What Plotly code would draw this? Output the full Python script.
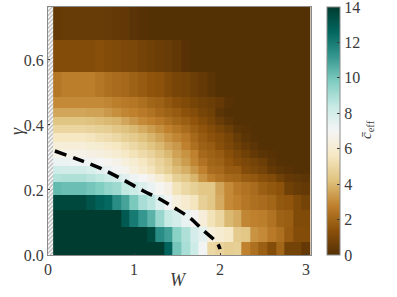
import plotly.graph_objects as go

W_edges = [0.05, 0.15, 0.25, 0.35, 0.45, 0.55, 0.65, 0.75, 0.85, 0.95, 1.05, 1.15, 1.25, 1.35, 1.45, 1.55,
           1.65, 1.75, 1.85, 1.95, 2.05, 2.15, 2.25, 2.35, 2.45, 2.55, 2.65, 2.75, 2.85, 2.95, 3.05]
gamma_edges = [0.0, 0.04, 0.086, 0.138, 0.185, 0.225, 0.249, 0.274, 0.298, 0.323, 0.348, 0.375, 0.4, 0.425,
               0.452, 0.486, 0.563, 0.662, 0.763]

# rows from bottom (gamma small) to top
c_eff = [
    [14,14,14,14,14,14,14,14,14,14,14,14,14,12.7,10.0,9.0,8.2,7.1,5.0,4.8,4.6,4.7,2.8,2.3,1.8,1.2,2.0,0.8,0.8,0.4],
    [14,14,14,14,14,14,14,14,14,14,14,13.5,11.5,11.0,9.6,8.9,8.0,7.5,6.3,6.0,5.7,4.5,4.4,3.2,3.0,2.6,2.3,1.7,1.2,1.2],
    [14,14,14,14,14,14,14,14,13.0,12.0,11.2,10.5,9.3,8.4,8.0,7.4,6.9,6.2,5.4,4.9,4.0,3.7,2.9,2.8,2.7,2.4,1.9,1.8,1.1,1.1],
    [13.6,13.6,13.6,13.6,13.2,12.8,12.5,11.5,10.9,9.9,9.0,8.6,7.8,7.1,6.3,5.9,5.5,4.7,4.4,3.7,3.0,2.8,2.5,2.3,2.2,2.0,1.6,1.5,1.1,0.8],
    [10.3,10.2,10.2,10.2,10.0,9.8,9.4,9.2,8.5,8.2,7.8,7.3,6.9,6.5,5.4,5.0,4.7,4.4,4.4,3.6,3.0,2.6,2.4,2.2,1.8,1.6,1.4,0.7,0.5,0.4],
    [8.8,8.9,8.9,8.9,8.7,8.5,8.2,8.0,7.6,7.2,7.0,6.6,6.0,5.4,4.7,4.4,3.9,3.2,2.7,2.4,2.1,2.0,1.7,1.6,1.3,1.1,0.7,0.4,0.3,0.2],
    [8.2,8.1,8.1,8.1,7.9,7.6,7.3,7.1,6.8,6.3,5.9,5.5,5.0,4.6,4.1,3.8,3.3,2.8,2.2,2.1,1.7,1.7,1.2,1.0,0.8,0.4,0.2,0.1,0,0],
    [7.3,7.3,7.2,7.2,7.1,7.0,6.9,6.7,6.3,6.0,5.6,5.2,4.8,4.4,3.8,3.4,2.9,2.4,2.0,1.9,1.5,1.2,1.0,0.8,0.6,0.2,0.05,0,0,0],
    [6.7,6.7,6.7,6.7,6.5,6.4,6.2,6.0,5.7,5.4,5.1,4.8,4.4,4.0,3.5,3.2,2.8,2.1,1.9,1.7,1.3,1.0,0.7,0.4,0.2,0.1,0,0,0,0],
    [6.2,6.2,6.2,6.2,6.1,6.0,5.8,5.6,5.3,5.0,4.7,4.3,4.0,3.6,3.3,2.8,2.3,1.9,1.7,1.3,1.0,0.7,0.4,0.2,0,0,0,0,0,0],
    [5.6,5.6,5.6,5.6,5.5,5.3,5.2,5.0,4.7,4.5,4.2,3.9,3.6,3.2,2.9,2.6,2.1,1.7,1.4,1.2,0.9,0.5,0.2,0.05,0,0,0,0,0,0],
    [4.9,4.9,4.9,4.9,4.8,4.7,4.6,4.4,4.2,4.0,3.7,3.4,3.1,2.8,2.5,2.2,1.8,1.5,1.2,0.9,0.6,0.2,0.1,0,0,0,0,0,0,0],
    [4.3,4.3,4.3,4.3,4.2,4.1,4.0,3.9,3.6,3.3,3.0,2.8,2.6,2.3,2.0,1.8,1.5,1.2,0.9,0.5,0.2,0,0,0,0,0,0,0,0,0],
    [3.6,3.6,3.6,3.6,3.5,3.5,3.3,3.1,2.9,2.8,2.6,2.4,2.1,1.9,1.7,1.4,1.2,0.9,0.7,0.2,0,0,0,0,0,0,0,0,0,0],
    [3.0,3.0,3.0,3.0,3.0,3.0,2.9,2.7,2.6,2.5,2.3,2.0,1.9,1.6,1.3,1.1,0.9,0.7,0.6,0.4,0.1,0,0,0,0,0,0,0,0,0],
    [2.5,2.7,2.7,2.7,2.7,2.5,2.3,2.2,2.1,1.9,1.7,1.5,1.4,1.1,0.9,0.8,0.6,0.4,0.2,0,0,0,0,0,0,0,0,0,0,0],
    [1.2,1.2,1.2,1.2,1.2,1.3,1.2,1.1,1.0,1.0,0.8,0.7,0.6,0.5,0.35,0.1,0,0,0,0,0,0,0,0,0,0,0,0,0,0],
    [0.4,0.5,0.5,0.5,0.5,0.5,0.45,0.4,0.35,0.15,0.05,0,0,0,0,0,0,0,0,0,0,0,0,0,0,0,0,0,0,0],
]

boundary_W = [0.08, 0.34, 0.6, 0.87, 1.11, 1.28, 1.47, 1.65, 1.8, 1.97, 2.0]
boundary_gamma = [0.32, 0.295, 0.268, 0.232, 0.197, 0.175, 0.145, 0.114, 0.077, 0.036, 0.018]

band_W = [0.03]
band_top = [0.763]
band_width = [0.06]

W_ticks = [0, 1, 2, 3]
gamma_ticks = [0.0, 0.2, 0.4, 0.6]
cbar_ticks = [0, 2, 4, 6, 8, 10, 12, 13.97]
cbar_labels = ["0", "2", "4", "6", "8", "10", "12", "14"]

FONT = "Liberation Serif"
TEXT = "#3a3a3a"
GREY = "#8a8a8a"

fig = go.Figure()
fig.add_trace(go.Heatmap(
    x=W_edges, y=gamma_edges, z=c_eff, colorscale="BrBG", zmin=0, zmax=14, zsmooth=False,
    colorbar=dict(
        x=1.061, xanchor="left", xref="paper", y=0.5, yanchor="middle", len=1, lenmode="fraction",
        thickness=13, thicknessmode="pixels", outlinecolor=GREY, outlinewidth=1, xpad=0, ypad=0,
        tickmode="array", tickvals=cbar_ticks, ticktext=cbar_labels,
        ticks="inside", ticklen=3, tickcolor=TEXT, tickwidth=1, ticklabeloverflow="allow",
        tickfont=dict(family=FONT, size=16, color=TEXT),
    ),
))
fig.add_trace(go.Bar(
    x=band_W, y=band_top, width=band_width, base=0,
    marker=dict(color="white", line=dict(width=0),
                pattern=dict(shape="/", size=3, solidity=0.5, fgcolor="#777777", bgcolor="white")),
    showlegend=False, hoverinfo="skip",
))
fig.add_trace(go.Scatter(
    x=boundary_W, y=boundary_gamma, mode="lines",
    line=dict(color="black", width=3.5, dash="12px,7px", shape="spline"),
    showlegend=False, hoverinfo="skip",
))

axis_common = dict(
    showgrid=False, zeroline=False, showline=True, linecolor=GREY, linewidth=1, mirror=True,
    ticks="inside", ticklen=2, tickcolor=TEXT, tickwidth=1, automargin=False,
    tickfont=dict(family=FONT, size=16, color=TEXT),
)
plot_l, plot_r, plot_t, plot_b = 48, 311, 7, 255
def px_x(p): return (p - plot_l) / (plot_r - plot_l)
def px_y(p): return (plot_b - p) / (plot_b - plot_t)
fig.update_layout(
    width=397, height=297, autosize=False,
    margin=dict(l=plot_l, r=397 - plot_r, t=plot_t, b=297 - plot_b, pad=0, autoexpand=False),
    paper_bgcolor="white", plot_bgcolor="white",
    showlegend=False,
    xaxis=dict(range=[0, 3.058], tickvals=W_ticks, tickformat="d", **axis_common),
    yaxis=dict(range=[0, 0.763], tickvals=gamma_ticks, tickformat=".1f", **axis_common),
    annotations=[
        dict(text="<i>W</i>", x=px_x(178), y=px_y(280), xref="paper", yref="paper", showarrow=False,
             xanchor="center", yanchor="middle", font=dict(family=FONT, size=18, color=TEXT)),
        dict(text="<i>γ</i>", x=px_x(17), y=px_y(131), xref="paper", yref="paper", showarrow=False, textangle=-90,
             xanchor="center", yanchor="middle", font=dict(family=FONT, size=18, color=TEXT)),
        dict(text="<i>c̄</i><sub>eff</sub>", x=px_x(367), y=px_y(130), xref="paper", yref="paper", showarrow=False,
             textangle=-90, xanchor="center", yanchor="middle", font=dict(family=FONT, size=15, color=TEXT)),
    ],
)
fig.write_html("out.html", config=dict(displayModeBar=False),
               post_script="document.body.style.margin='0';document.documentElement.style.overflow='hidden';")
